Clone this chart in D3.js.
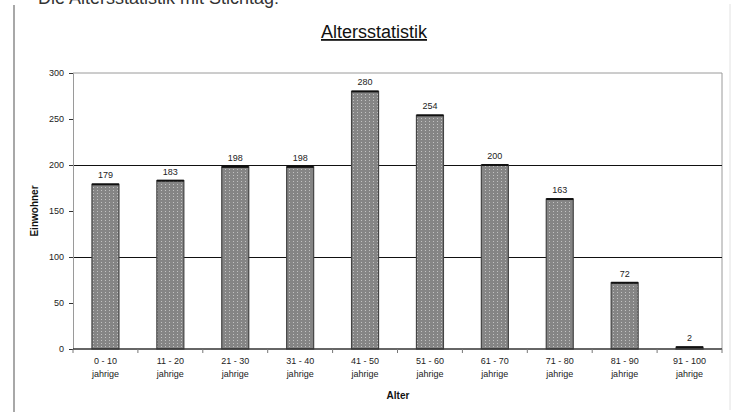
<!DOCTYPE html>
<html>
<head>
<meta charset="utf-8">
<script src="https://cdn.jsdelivr.net/npm/d3@7"></script>
<style>
  body { margin: 0; background: #fff; }
  svg { display: block; font-family: "Liberation Sans", Arial, sans-serif; }
</style>
</head>
<body>
<div class="graph"></div>
<script>
const w = 733;
const h = 412;
const margin = {top: 73, right: 11, bottom: 63, left: 73};

const ageGroups = ["0 - 10", "11 - 20", "21 - 30", "31 - 40", "41 - 50", "51 - 60", "61 - 70", "71 - 80", "81 - 90", "91 - 100"];
const residents = [179, 183, 198, 198, 280, 254, 200, 163, 72, 2];
const yTicks = [0, 50, 100, 150, 200, 250, 300];
const gridValues = [100, 200];

const canvas = d3.select('.graph')
  .append("svg")
  .attr("width", w)
  .attr("height", h);

// dotted bar texture
const pat = canvas.append("defs").append("pattern")
  .attr("id", "dots")
  .attr("patternUnits", "userSpaceOnUse")
  .attr("width", 4)
  .attr("height", 3);
pat.append("rect").attr("width", 4).attr("height", 3).attr("fill", "#858585");
pat.append("rect").attr("x", 1).attr("y", 1).attr("width", 1).attr("height", 1).attr("fill", "#c2c2c2");

// page frame lines
canvas.append("line")
  .attr("x1", 14).attr("x2", 14).attr("y1", 5).attr("y2", h)
  .attr("stroke", "#a8a8a8").attr("stroke-width", 2);
canvas.append("line")
  .attr("x1", 730).attr("x2", 730).attr("y1", 4).attr("y2", h - 2)
  .attr("stroke", "#e2e2e2").attr("stroke-width", 1);

// cut-off heading at the very top
canvas.append("text")
  .attr("x", 38).attr("y", 4)
  .attr("font-size", 18)
  .attr("fill", "#333")
  .text("Die Altersstatistik mit Stichtag:");

// title
canvas.append("text")
  .attr("x", 374).attr("y", 38)
  .attr("text-anchor", "middle")
  .attr("font-size", 18)
  .attr("text-decoration", "underline")
  .attr("fill", "#111")
  .text("Altersstatistik");

const xScale = d3.scaleBand()
  .domain(ageGroups)
  .range([margin.left, w - margin.right]);

const yScale = d3.scaleLinear()
  .domain([0, 300])
  .range([h - margin.bottom, margin.top]);

// plot border (top + right)
canvas.append("path")
  .attr("d", `M${margin.left},${yScale(300)}H${w - margin.right}V${yScale(0)}`)
  .attr("fill", "none")
  .attr("stroke", "#9a9a9a");

// gridlines
canvas.selectAll(".grid")
  .data(gridValues)
  .enter().append("line")
  .attr("class", "grid")
  .attr("x1", margin.left).attr("x2", w - margin.right)
  .attr("y1", d => Math.round(yScale(d)) + 0.5)
  .attr("y2", d => Math.round(yScale(d)) + 0.5)
  .attr("stroke", "#111");

// y-axis
const yAxis = d3.axisLeft(yScale)
  .tickValues(yTicks)
  .tickSize(4)
  .tickPadding(5);

const yg = canvas.append("g")
  .attr("id", "y-axis")
  .attr("transform", `translate(${margin.left}, 0)`)
  .call(yAxis);
yg.select(".domain").attr("stroke", "#9a9a9a");
yg.selectAll(".tick line").attr("stroke", "#333");
yg.selectAll(".tick text").attr("font-size", 9).attr("fill", "#222")
  .attr("font-family", "'Liberation Sans', Arial, sans-serif");

// bars
const barW = 27;
canvas.selectAll(".bar")
  .data(residents)
  .enter().append("rect")
  .attr("class", "bar")
  .attr("x", (d, i) => xScale(ageGroups[i]) + xScale.bandwidth() / 2 - barW / 2)
  .attr("y", d => yScale(d))
  .attr("width", barW)
  .attr("height", d => yScale(0) - yScale(d))
  .attr("fill", "url(#dots)")
  .attr("stroke", "#444")
  .attr("stroke-width", 1.2);

canvas.selectAll(".bar-top")
  .data(residents)
  .enter().append("line")
  .attr("class", "bar-top")
  .attr("x1", (d, i) => xScale(ageGroups[i]) + xScale.bandwidth() / 2 - barW / 2)
  .attr("x2", (d, i) => xScale(ageGroups[i]) + xScale.bandwidth() / 2 + barW / 2)
  .attr("y1", d => yScale(d))
  .attr("y2", d => yScale(d))
  .attr("stroke", "#111")
  .attr("stroke-width", 2);

// value labels
canvas.selectAll(".value")
  .data(residents)
  .enter().append("text")
  .attr("class", "value")
  .attr("x", (d, i) => xScale(ageGroups[i]) + xScale.bandwidth() / 2)
  .attr("y", d => yScale(d) - 6)
  .attr("text-anchor", "middle")
  .attr("font-size", 9)
  .attr("fill", "#222")
  .text(d => d);

// x-axis
const xg = canvas.append("g")
  .attr("id", "x-axis")
  .attr("transform", `translate(0, ${yScale(0)})`);
xg.append("line")
  .attr("x1", margin.left).attr("x2", w - margin.right)
  .attr("stroke", "#333").attr("stroke-width", 1.5);
xg.selectAll(".xtick")
  .data(ageGroups.concat([null]))
  .enter().append("line")
  .attr("class", "xtick")
  .attr("x1", (d, i) => margin.left + i * xScale.bandwidth())
  .attr("x2", (d, i) => margin.left + i * xScale.bandwidth())
  .attr("y1", 0).attr("y2", 4)
  .attr("stroke", "#777");

const lbl = xg.selectAll(".xlabel")
  .data(ageGroups)
  .enter().append("text")
  .attr("class", "xlabel")
  .attr("x", d => xScale(d) + xScale.bandwidth() / 2)
  .attr("text-anchor", "middle")
  .attr("font-size", 9)
  .attr("fill", "#222");
lbl.append("tspan").attr("x", d => xScale(d) + xScale.bandwidth() / 2).attr("y", 15).text(d => d);
lbl.append("tspan").attr("x", d => xScale(d) + xScale.bandwidth() / 2).attr("y", 28).text("jahrige");

// axis titles
canvas.append("text")
  .attr("x", 398).attr("y", 399)
  .attr("text-anchor", "middle")
  .attr("font-size", 10)
  .attr("font-weight", "bold")
  .attr("fill", "#111")
  .text("Alter");

canvas.append("text")
  .attr("transform", "translate(38, 211) rotate(-90)")
  .attr("text-anchor", "middle")
  .attr("font-size", 10)
  .attr("font-weight", "bold")
  .attr("fill", "#111")
  .text("Einwohner");
</script>
</body>
</html>
